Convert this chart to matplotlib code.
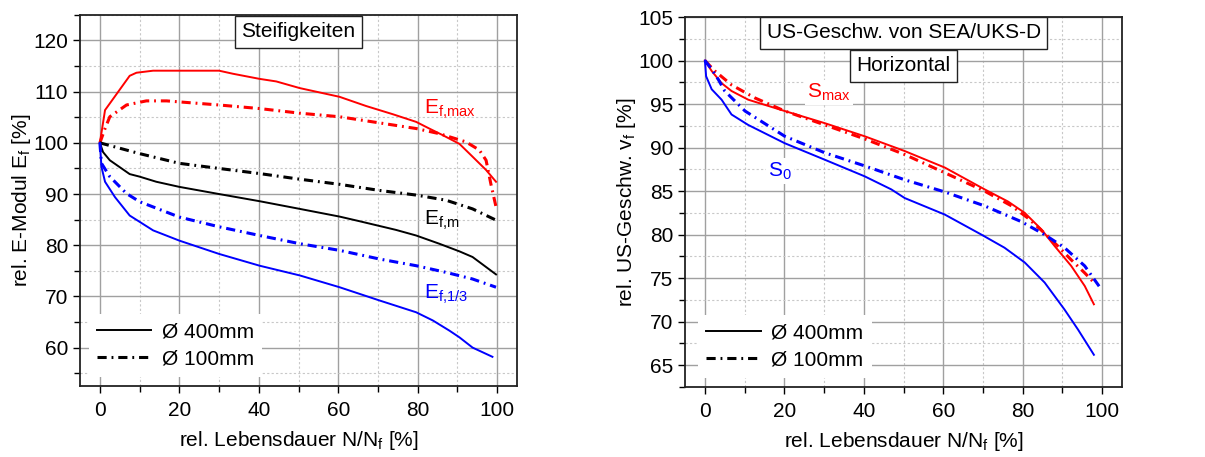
import matplotlib
matplotlib.use("Agg")
import matplotlib.pyplot as plt
from matplotlib.ticker import MultipleLocator

plt.rcParams['font.family'] = ['Liberation Sans', 'DejaVu Sans']
plt.rcParams['mathtext.default'] = 'regular'

# --- left: Steifigkeiten ---
x_emax_400 = [0, 1.3, 7.5, 9.2, 13.4, 20, 30, 33.5, 40.2, 44.4, 50.3, 60.3, 67, 73.7, 79.6, 82.9, 86.3, 90.5, 93.8, 97.2, 99.7]
y_emax_400 = [100, 106.4, 113.1, 113.7, 114.1, 114.1, 114.1, 113.5, 112.5, 112, 110.7, 109, 107.2, 105.6, 104.1, 102.8, 101.5, 99.8, 97.3, 94.7, 92.4]
x_emax_100 = [0, 1.3, 2.5, 6.7, 11.7, 16.8, 25, 30, 40.2, 50.3, 60.3, 68.7, 79.6, 85.4, 92.1, 95.5, 97.2, 98.4, 99.7]
y_emax_100 = [100, 102.8, 105.1, 107.4, 108.2, 108.2, 107.7, 107.4, 106.7, 105.8, 105.1, 104.1, 102.8, 101.8, 100.2, 98.6, 96.6, 92.0, 87.5]
x_em_400 = [0, 0.8, 2.5, 7.5, 10, 14.2, 20, 30, 40.2, 50.3, 60.3, 65.3, 74.5, 79.6, 85.4, 90.5, 93.8, 99.7]
y_em_400 = [100, 98.2, 96.6, 93.9, 93.4, 92.4, 91.4, 90, 88.6, 87.1, 85.6, 84.7, 83, 81.9, 80.3, 78.8, 77.7, 74.3]
x_em_100 = [0, 10, 20, 30, 40.2, 50.3, 60.3, 70.4, 79.6, 87.1, 93.8, 99.7]
y_em_100 = [100, 97.9, 96, 95, 94, 92.9, 91.9, 90.7, 89.8, 88.8, 87.1, 84.9]
x_e13_400 = [0, 0.4, 1.3, 3.8, 7.5, 13.4, 20, 30, 40.2, 50.3, 60.3, 70.4, 79.6, 83.8, 88, 90.5, 93.8, 98.8]
y_e13_400 = [100, 95.3, 92.4, 89.4, 85.8, 82.9, 80.9, 78.3, 76, 74.1, 71.8, 69.2, 66.9, 65.3, 63.3, 62, 60, 58.2]
x_e13_100 = [0, 0.4, 2.5, 6.7, 10, 20, 30, 40.2, 50.3, 60.3, 70.4, 79.6, 87.1, 93.8, 99.7]
y_e13_100 = [100, 96, 93.4, 90.1, 88.5, 85.5, 83.6, 81.9, 80.3, 79, 77.3, 76, 74.7, 73.4, 71.8]

# --- right: US-Geschwindigkeit ---
x_smax_400 = [0, 1.7, 4.2, 6.7, 10.9, 20.1, 30.2, 40.2, 50.3, 60.4, 70.4, 76.3, 80.5, 84.7, 88, 92.2, 95.6, 97.9]
y_smax_400 = [100, 98.8, 97.4, 96.5, 95.5, 94.2, 92.8, 91.3, 89.6, 87.7, 85.2, 83.8, 82.5, 80.6, 78.7, 76.4, 74.1, 72.0]
x_smax_100 = [0, 2.5, 6.7, 12.6, 20.1, 30.2, 40.2, 50.3, 60.4, 70.4, 77.2, 81.3, 85.4, 88.8, 92.2, 95.6, 97.7]
y_smax_100 = [100, 98.8, 97.2, 95.7, 94.2, 92.6, 91, 89.2, 87.1, 85, 83.3, 81.9, 80.2, 78.7, 77.1, 75.6, 74.6]
x_s0_400 = [0, 0.3, 1.7, 4.2, 6.7, 10.9, 20.1, 30.2, 40.2, 46.9, 50.3, 60.4, 69.6, 75.4, 80.5, 85.5, 90.5, 93.9, 97.9]
y_s0_400 = [100, 98.2, 96.7, 95.5, 93.8, 92.6, 90.5, 88.6, 86.7, 85.2, 84.2, 82.3, 80, 78.5, 76.8, 74.5, 71.4, 69.1, 66.2]
x_s0_100 = [0, 1.7, 3.4, 5, 10.1, 20.1, 30.2, 40.2, 50.3, 60.4, 70.4, 79.6, 85.5, 90.5, 95.6, 99.8]
y_s0_100 = [100, 99, 97.8, 96.5, 94.2, 91.3, 89.4, 87.9, 86.3, 84.9, 83.3, 81.5, 80, 78.5, 76.4, 73.7]

dash = (0, (3, 1.6, 0.6, 1.6))
fs = 15

fig = plt.figure(figsize=(12.05, 4.57), dpi=100)
ax1 = fig.add_axes([0.0664, 0.1554, 0.3627, 0.812])
ax2 = fig.add_axes([0.5685, 0.1532, 0.3627, 0.8096])


def style(ax, ylim, ymaj, ymin):
    ax.set_xlim(-5, 105)
    ax.set_ylim(*ylim)
    ax.xaxis.set_major_locator(MultipleLocator(20))
    ax.xaxis.set_minor_locator(MultipleLocator(10))
    ax.yaxis.set_major_locator(MultipleLocator(ymaj))
    ax.yaxis.set_minor_locator(MultipleLocator(ymin))
    ax.grid(which='major', color='#a0a0a0', lw=1.0)
    ax.grid(which='minor', color='#c8c8c8', lw=0.8, ls=(0, (2, 2)))
    ax.set_axisbelow(True)
    ax.tick_params(which='both', direction='out', labelsize=fs, width=1.0)
    ax.tick_params(which='major', length=5)
    ax.tick_params(which='minor', length=4)
    ax.tick_params(axis='x', pad=6)
    for s in ax.spines.values():
        s.set_linewidth(1.3)
        s.set_color('#222222')
    ax.set_xlabel('rel. Lebensdauer N/N$_f$ [%]', fontsize=fs, labelpad=6)


style(ax1, (52.5, 125), 10, 5)
ax1.plot(x_emax_400, y_emax_400, color='red', lw=1.4)
ax1.plot(x_emax_100, y_emax_100, color='red', lw=2.2, ls=dash)
ax1.plot(x_em_400, y_em_400, color='black', lw=1.4)
ax1.plot(x_em_100, y_em_100, color='black', lw=2.2, ls=dash)
ax1.plot(x_e13_400, y_e13_400, color='blue', lw=1.4)
ax1.plot(x_e13_100, y_e13_100, color='blue', lw=2.2, ls=dash)
ax1.set_ylabel('rel. E-Modul E$_f$ [%]', fontsize=fs, labelpad=0)
ax1.text(81.7, 106.6, 'E$_{f{,}max}$', color='red', fontsize=fs, va='center')
ax1.text(81.7, 84.9, 'E$_{f{,}m}$', color='black', fontsize=fs, va='center')
ax1.text(81.7, 70.3, 'E$_{f{,}1/3}$', color='blue', fontsize=fs, va='center')
ax1.text(50, 0.954, 'Steifigkeiten', transform=ax1.get_xaxis_transform(), fontsize=fs,
         ha='center', va='center',
         bbox=dict(boxstyle='square,pad=0.3', fc='white', ec='#222222', lw=1.0))

style(ax2, (62.5, 105), 5, 2.5)
ax2.plot(x_smax_400, y_smax_400, color='red', lw=1.4)
ax2.plot(x_smax_100, y_smax_100, color='red', lw=2.2, ls=dash)
ax2.plot(x_s0_400, y_s0_400, color='blue', lw=1.4)
ax2.plot(x_s0_100, y_s0_100, color='blue', lw=2.2, ls=dash)
ax2.set_ylabel('rel. US-Geschw. v$_f$ [%]', fontsize=fs, labelpad=0)
ax2.text(25.8, 96.3, 'S$_{max}$', color='red', fontsize=fs, va='center',
         bbox=dict(boxstyle='square,pad=0.1', fc='white', ec='none'))
ax2.text(15.8, 87.3, 'S$_0$', color='blue', fontsize=fs, va='center',
         bbox=dict(boxstyle='square,pad=0.1', fc='white', ec='none'))
ax2.text(50, 0.957, 'US-Geschw. von SEA/UKS-D', transform=ax2.get_xaxis_transform(), fontsize=fs,
         ha='center', va='center',
         bbox=dict(boxstyle='square,pad=0.3', fc='white', ec='#222222', lw=1.0))
ax2.text(50, 0.868, 'Horizontal', transform=ax2.get_xaxis_transform(), fontsize=fs,
         ha='center', va='center',
         bbox=dict(boxstyle='square,pad=0.3', fc='white', ec='#222222', lw=1.0))

for ax, anchor in ((ax1, (0.02, 0.025)), (ax2, (0.03, 0.025))):
    h1, = ax.plot([], [], color='black', lw=1.4)
    h2, = ax.plot([], [], color='black', lw=2.2, ls=dash)
    leg = ax.legend([h1, h2], ['Ø 400mm', 'Ø 100mm'], loc='lower left', bbox_to_anchor=anchor,
                    fontsize=fs, frameon=True, fancybox=False, framealpha=1,
                    handlelength=2.6, handletextpad=0.5, labelspacing=0.4, borderaxespad=0)
    leg.get_frame().set_edgecolor('none')
    leg.get_frame().set_facecolor('white')

fig.savefig('out.png', dpi=100)
